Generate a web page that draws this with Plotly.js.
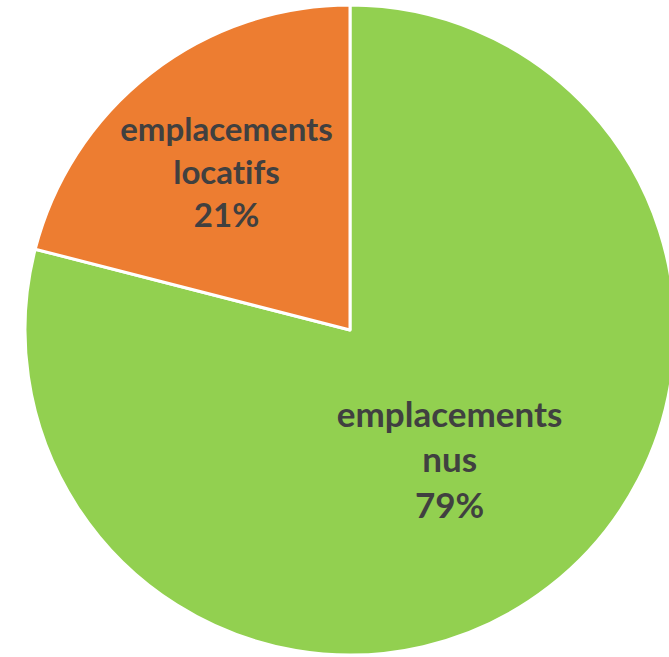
<!DOCTYPE html>
<html>
<head>
<meta charset="utf-8">
<script src="https://cdn.plot.ly/plotly-3.0.1.min.js"></script>
<style>
html, body { margin: 0; padding: 0; overflow: hidden; background: #fff; }
#chart { width: 700px; height: 660px; }
#chart text { font-variant-ligatures: none; font-feature-settings: "liga" 0; }
</style>
</head>
<body>
<div id="chart"></div>
<script>
var categories = ["emplacements<br>nus", "emplacements<br>locatifs"];
var values = [79, 21];
var colors = ["#92D050", "#ED7D31"];

var trace = {
  type: "pie",
  labels: categories,
  values: values,
  sort: false,
  direction: "clockwise",
  rotation: 0,
  marker: { colors: colors, line: { color: "#ffffff", width: 3 } },
  texttemplate: "<b>%{label}<br>%{percent:.0%}</b>",
  textposition: "inside",
  insidetextorientation: "horizontal",
  textfont: { family: "Lato, 'Open Sans', sans-serif", size: 35, color: "#404040" },
  hoverinfo: "none",
  showlegend: false
};

var layout = {
  width: 700,
  height: 660,
  margin: { l: 25, r: 25, t: 5, b: 5 },
  paper_bgcolor: "#ffffff",
  showlegend: false
};

Plotly.newPlot("chart", [trace], layout, { displayModeBar: false, staticPlot: true });
</script>
</body>
</html>
